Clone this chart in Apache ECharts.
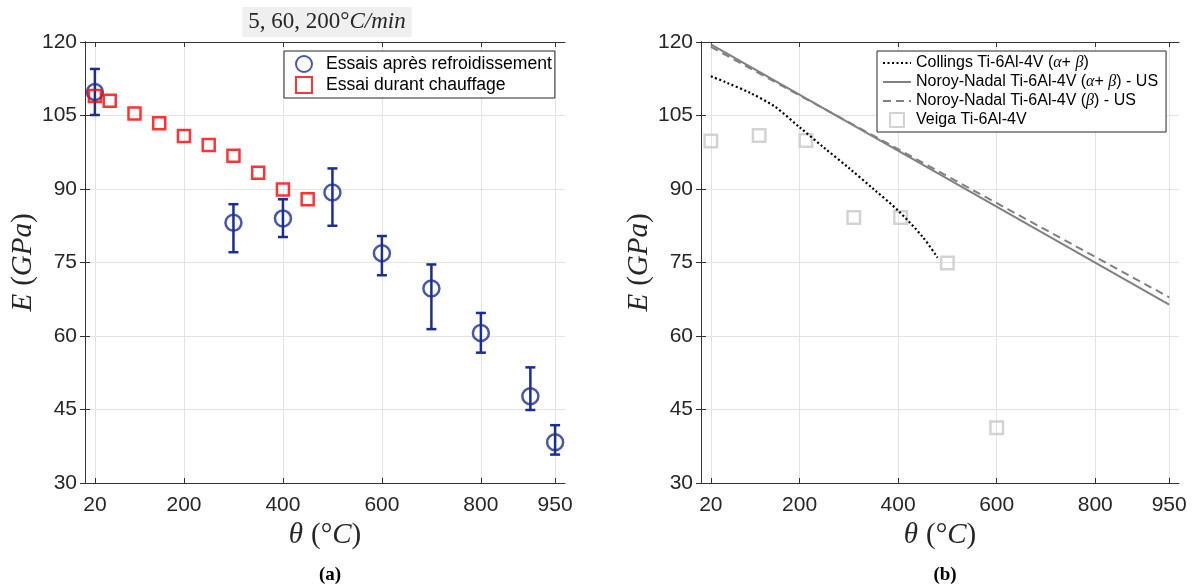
<!DOCTYPE html>
<html><head><meta charset="utf-8">
<script src="https://cdn.jsdelivr.net/npm/echarts@6/dist/echarts.min.js"></script>
<style>html,body{margin:0;padding:0;background:#fff}#c{width:1195px;height:588px}</style>
</head><body><div id="c"></div>
<script>
// ---------- tick labels ----------
const xTicks = [20, 200, 400, 600, 800, 950];
const yMin = 30, yMax = 120, yStep = 15;

// ---------- (a) ----------
const coolTemps = [20, 300, 400, 500, 600, 700, 800, 900, 950];
const coolE     = [109.8, 83.1, 84.0, 89.3, 76.9, 69.7, 60.6, 47.7, 38.3];
const coolLow   = [105.1, 77.1, 80.2, 82.5, 72.4, 61.4, 56.6, 44.9, 35.8];
const coolHigh  = [114.5, 86.9, 87.9, 94.2, 80.4, 74.6, 64.7, 53.6, 41.8];
const heatTemps = [20, 50, 100, 150, 200, 250, 300, 350, 400, 450];
const heatE     = [109.0, 108.0, 105.4, 103.4, 100.8, 99.0, 96.8, 93.3, 89.9, 87.9];

// ---------- (b) ----------
const collingsTemps = [20, 50, 100, 150, 200, 250, 300, 350, 400, 450, 480];
const collingsE     = [113.0, 111.8, 109.6, 106.8, 102.6, 98.4, 94.3, 90.0, 85.6, 80.2, 76.0];
const noroyABTemps  = [20, 950];
const noroyABE      = [119.5, 66.4];
const noroyBTemps   = [20, 950];
const noroyBE       = [119.0, 67.9];
const veigaTemps    = [20, 118, 213, 310, 405, 500, 600];
const veigaE        = [99.8, 100.9, 99.9, 84.2, 84.2, 74.9, 41.3];

const names = {
  cool: 'Essais après refroidissement',
  heat: 'Essai durant chauffage',
  coll: 'Collings Ti-6Al-4V (α+ β)',
  nab: 'Noroy-Nadal Ti-6Al-4V (α+ β) - US',
  nb: 'Noroy-Nadal Ti-6Al-4V (β) - US',
  veiga: 'Veiga Ti-6Al-4V'
};

const zip = (a, b) => a.map((v, i) => [v, b[i]]);
const AX = '#333333', LBL = '#262626', GRID = '#e3e3e3';
const SANS = 'Liberation Sans', SERIF = 'Liberation Serif';
const SQUARE = 'path://M0,0H10V10H0Z';
const NAME_FS = 29;

function nameStyle() {
  return { fontSize: NAME_FS, color: LBL, rich: {
    i: { fontFamily: SERIF, fontStyle: 'italic', fontSize: NAME_FS, color: LBL },
    n: { fontFamily: SERIF, fontSize: NAME_FS, color: LBL } } };
}

function xAxes(gi) {
  return [
    { gridIndex: gi, type: 'value', min: 0, max: 970, position: 'bottom',
      axisLine: { show: true, lineStyle: { color: AX, width: 1 } },
      axisTick: { show: true, inside: true, length: 5, customValues: xTicks, lineStyle: { color: AX } },
      axisLabel: { customValues: xTicks, margin: 12, fontSize: 21, fontFamily: SANS, color: LBL },
      splitLine: { show: true, lineStyle: { color: GRID, width: 1 } },
      name: '{i|θ} {n|(°}{i|C}{n|)}', nameLocation: 'middle', nameGap: 36,
      nameTextStyle: nameStyle() },
    { gridIndex: gi, type: 'value', min: 0, max: 970, position: 'top',
      axisLine: { show: true, lineStyle: { color: AX, width: 1 } },
      axisTick: { show: true, inside: true, length: 5, customValues: xTicks, lineStyle: { color: AX } },
      axisLabel: { show: false }, splitLine: { show: false } }
  ];
}
function yAxes(gi) {
  return [
    { gridIndex: gi, type: 'value', min: yMin, max: yMax, interval: yStep, position: 'left',
      axisLine: { show: true, lineStyle: { color: AX, width: 1 } },
      axisTick: { show: true, inside: true, length: 5, lineStyle: { color: AX } },
      axisLabel: { margin: 8, fontSize: 21, fontFamily: SANS, color: LBL },
      splitLine: { show: true, lineStyle: { color: GRID, width: 1 } },
      name: '{i|E} {n|(}{i|GPa}{n|)}', nameLocation: 'middle', nameGap: 46,
      nameTextStyle: nameStyle() },
    { gridIndex: gi, type: 'value', min: yMin, max: yMax, interval: yStep, position: 'right',
      axisLine: { show: true, lineStyle: { color: AX, width: 1 } },
      axisTick: { show: true, inside: true, length: 5, lineStyle: { color: AX } },
      axisLabel: { show: false }, splitLine: { show: false } }
  ];
}

const BLUE = '#1a2d94', RED = '#ff0000', VEIGA = '#c8c8c8', NOROY = '#808080';

function errorBars(xIdx, yIdx) {
  return {
    type: 'custom', xAxisIndex: xIdx, yAxisIndex: yIdx, silent: true, z: 2,
    data: coolTemps.map((t, i) => [t, coolLow[i], coolHigh[i]]),
    renderItem: function (params, api) {
      const lo = api.coord([api.value(0), api.value(1)]);
      const hi = api.coord([api.value(0), api.value(2)]);
      const hw = 5;
      const st = { stroke: BLUE, lineWidth: 2.5 };
      return { type: 'group', children: [
        { type: 'line', shape: { x1: lo[0], y1: lo[1], x2: hi[0], y2: hi[1] }, style: st },
        { type: 'line', shape: { x1: lo[0] - hw, y1: lo[1], x2: lo[0] + hw, y2: lo[1] }, style: st },
        { type: 'line', shape: { x1: hi[0] - hw, y1: hi[1], x2: hi[0] + hw, y2: hi[1] }, style: st }
      ] };
    }
  };
}

const greek = s => s.replace(/α/g, '{g|α}').replace(/β/g, '{g|β}');
const hideSym = { opacity: 0 };

const option = {
  animation: false,
  backgroundColor: '#ffffff',
  title: [
    { text: '{n|5, 60, 200°}{i|C/min}', left: 321, top: 7, textAlign: 'center',
      backgroundColor: '#efefef', padding: [3, 6, 4, 6],
      textStyle: { fontSize: 23, fontWeight: 'normal', color: LBL, rich: {
        n: { fontFamily: SERIF, fontSize: 23, fontWeight: 'normal', color: LBL },
        i: { fontFamily: SERIF, fontStyle: 'italic', fontSize: 23, fontWeight: 'normal', color: LBL } } } },
    { text: '(a)', left: 325, top: 561, textAlign: 'center',
      textStyle: { fontFamily: SERIF, fontWeight: 'bold', fontSize: 19, color: '#000' } },
    { text: '(b)', left: 940, top: 561, textAlign: 'center',
      textStyle: { fontFamily: SERIF, fontWeight: 'bold', fontSize: 19, color: '#000' } }
  ],
  grid: [
    { left: 85, top: 42, width: 480, height: 441 },
    { left: 701, top: 42, width: 478, height: 441 }
  ],
  xAxis: [...xAxes(0), ...xAxes(1)],
  yAxis: [...yAxes(0), ...yAxes(1)],
  legend: [
    { orient: 'vertical', left: 284, top: 51,
      data: [{ name: names.cool, icon: 'circle' }, { name: names.heat, icon: SQUARE }],
      backgroundColor: '#fff', borderColor: '#262626', borderWidth: 1,
      padding: [4, 3, 4, 11], itemWidth: 34, itemHeight: 16, itemGap: 3,
      textStyle: { fontSize: 17.6, fontFamily: SANS, color: '#000' } },
    { orient: 'vertical', left: 877, top: 51,
      data: [
        { name: names.coll, itemStyle: hideSym },
        { name: names.nab, itemStyle: hideSym },
        { name: names.nb, itemStyle: hideSym },
        { name: names.veiga, icon: SQUARE }
      ],
      backgroundColor: '#fff', borderColor: '#262626', borderWidth: 1,
      padding: [4, 8, 4, 5], itemWidth: 28, itemHeight: 14, itemGap: 3,
      formatter: greek,
      textStyle: { fontSize: 16, fontFamily: SANS, color: '#000',
        rich: { g: { fontFamily: SERIF, fontStyle: 'italic', fontSize: 16, color: '#000' } } } }
  ],
  series: [
    errorBars(0, 0),
    { name: names.cool, type: 'scatter', xAxisIndex: 0, yAxisIndex: 0, z: 3,
      data: zip(coolTemps, coolE), symbol: 'circle', symbolSize: 16,
      itemStyle: { color: 'transparent', borderColor: BLUE, borderWidth: 2.5 } },
    { name: names.heat, type: 'scatter', xAxisIndex: 0, yAxisIndex: 0, z: 4,
      data: zip(heatTemps, heatE), symbol: 'rect', symbolSize: 12,
      itemStyle: { color: 'transparent', borderColor: RED, borderWidth: 2.5 } },

    { name: names.coll, type: 'line', xAxisIndex: 2, yAxisIndex: 2, z: 4,
      data: zip(collingsTemps, collingsE), symbol: 'none', smooth: 0.3,
      lineStyle: { color: '#000', width: 2.2, type: [2, 2.5] }, itemStyle: { color: '#000' } },
    { name: names.nab, type: 'line', xAxisIndex: 2, yAxisIndex: 2, z: 3,
      data: zip(noroyABTemps, noroyABE), symbol: 'none',
      lineStyle: { color: NOROY, width: 2, type: 'solid' }, itemStyle: { color: NOROY } },
    { name: names.nb, type: 'line', xAxisIndex: 2, yAxisIndex: 2, z: 3,
      data: zip(noroyBTemps, noroyBE), symbol: 'none',
      lineStyle: { color: NOROY, width: 2, type: [8, 5] }, itemStyle: { color: NOROY } },
    { name: names.veiga, type: 'scatter', xAxisIndex: 2, yAxisIndex: 2, z: 2,
      data: zip(veigaTemps, veigaE), symbol: 'rect', symbolSize: 12.5,
      itemStyle: { color: 'transparent', borderColor: VEIGA, borderWidth: 2.5 } }
  ]
};

const chart = echarts.init(document.getElementById('c'), null, { renderer: 'canvas' });
chart.setOption(option);
</script>
</body></html>
